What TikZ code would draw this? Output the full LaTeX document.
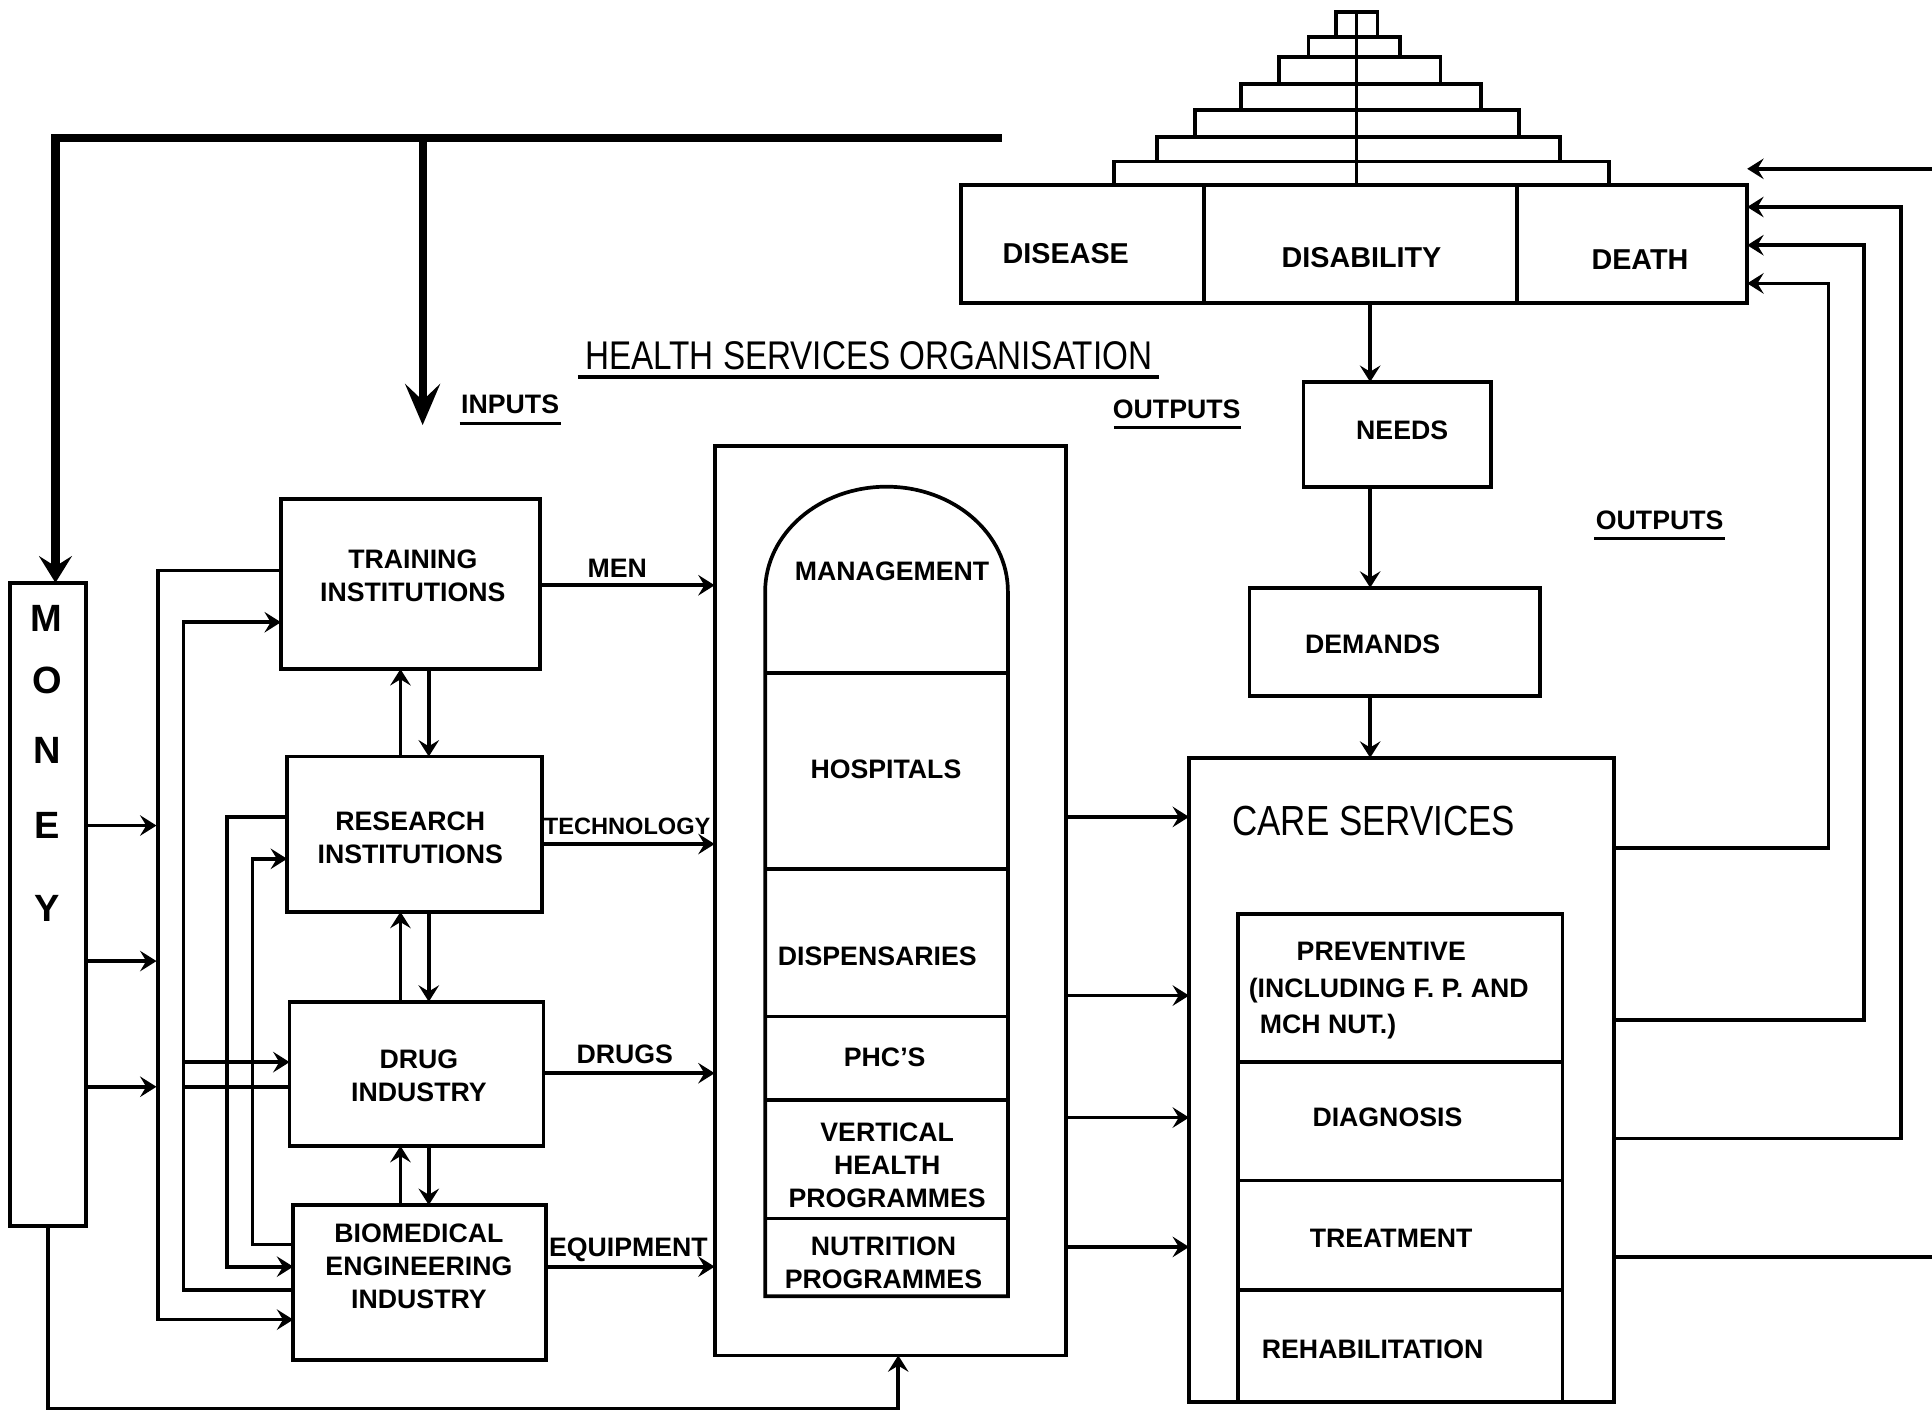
\documentclass[tikz,border=0pt]{standalone}
\usepackage{fontspec}
\setmainfont{Liberation Sans}
\newfontfamily\condfont[FakeStretch=0.83]{Liberation Sans}
\usetikzlibrary{arrows.meta,fit}
\begin{document}
\begin{tikzpicture}[x=0.6pt,y=-0.6pt,
  line width=1.8pt,
  box/.style={draw, line width=1.8pt, inner sep=0pt, outer sep=0pt},
  lbl/.style={font=\bfseries\fontsize{13}{16}\selectfont, align=center, inner sep=0pt},
  biglbl/.style={font=\condfont\fontsize{20.5}{24}\selectfont, inner sep=0pt},
  letter/.style={font=\bfseries\fontsize{18.5}{20}\selectfont, inner sep=0pt},
  arr/.style={-{Stealth[length=8pt,width=10pt,inset=3pt]}},
  thickln/.style={line width=4pt},
  bigarr/.style={-{Stealth[length=20pt,width=17pt,inset=8pt]}},
  midarr/.style={-{Stealth[length=13pt,width=16pt,inset=5pt]}},
  ul/.style={line width=1.5pt}
  ]
\useasboundingbox (0,0) rectangle (1568,1148);

% ---------- boxes ----------
\node[box, fit={(8,473) (70,995)}] (money) {};
\node[box, fit={(228,405) (438,543)}] (train) {};
\node[box, fit={(233,614) (440,740)}] (research) {};
\node[box, fit={(235,813) (441,930)}] (drug) {};
\node[box, fit={(238,978) (443,1104)}] (biomed) {};
\node[box, fit={(580,362) (865,1100)}] (hso) {};
\node[box, fit={(965,615) (1310,1138)}] (care) {};
\node[box, fit={(1005,742) (1268,1138)}] (carein) {};
\node[box, fit={(780,150) (1418,246)}] (ddd) {};
\node[box, fit={(1058,310) (1210,395)}] (needs) {};
\node[box, fit={(1014,477) (1250,565)}] (demands) {};

% ---------- capsule inside health services organisation ----------
\draw (621,1052) -- (621,480) arc[start angle=180, end angle=0, x radius=59.1pt, y radius=51pt] -- (818,1052) -- cycle;
\foreach \yy in {546,705,825,893,989} \draw (621,\yy) -- (818,\yy);

% ---------- care services inner dividers ----------
\foreach \yy in {862,958,1047} \draw (carein.west |- 0,\yy) -- (carein.east |- 0,\yy);

% ---------- top box dividers and pyramid ----------
\draw (977,150) -- (977,246);
\draw (1231,150) -- (1231,246);
\draw (1084,10) rectangle (1118,30);
\draw (1062,30) rectangle (1136,46);
\draw (1038,46) rectangle (1169,68);
\draw (1007,68) rectangle (1202,89);
\draw (970,89) rectangle (1233,111);
\draw (939,111) rectangle (1266,131);
\draw (904,131) rectangle (1306,150);
\draw (1101,10) -- (1101,150);

% ---------- texts ----------
\node[letter] (m1) at (38,502) {M};
\node[letter] (m2) at (38,552) {O};
\node[letter] (m3) at (38,609) {N};
\node[letter] (m4) at (38,670) {E};
\node[letter] (m5) at (38,737) {Y};

\node[lbl] (trainT) at (335,467) {TRAINING\\INSTITUTIONS};
\node[lbl] (researchT) at (333,680) {RESEARCH\\INSTITUTIONS};
\node[lbl] (drugT) at (340,873) {DRUG\\INDUSTRY};
\node[lbl] (biomedT) at (340,1028) {BIOMEDICAL\\ENGINEERING\\INDUSTRY};

\node[lbl] (menT) at (501,461) {MEN};
\node[lbl, font=\bfseries\fontsize{11.5}{14}\selectfont] (techT) at (509,671) {TECHNOLOGY};
\node[lbl] (drugsT) at (507,856) {DRUGS};
\node[lbl] (equipT) at (510,1014) {EQUIPMENT};

\node[lbl] (mgmtT) at (724,464) {MANAGEMENT};
\node[lbl] (hospT) at (719,624) {HOSPITALS};
\node[lbl] (dispT) at (712,776) {DISPENSARIES};
\node[lbl] (phcT) at (718,858) {PHC'S};
\node[lbl] (vertT) at (720,946) {VERTICAL\\HEALTH\\PROGRAMMES};
\node[lbl] (nutT) at (717,1025) {NUTRITION\\PROGRAMMES};

\node[biglbl] (careT) at (1115,666) {CARE SERVICES};
\node[lbl] (prevA) at (1121,772) {PREVENTIVE};
\node[lbl, anchor=west] (prevB) at (1012,804) {(INCLUDING F. P. AND};
\node[lbl, anchor=west] (prevC) at (1021,833) {MCH NUT.)};
\node[lbl] (diagT) at (1126,907) {DIAGNOSIS};
\node[lbl] (treatT) at (1129,1005) {TREATMENT};
\node[lbl] (rehabT) at (1114,1095) {REHABILITATION};

\node[lbl, font=\bfseries\fontsize{14}{16}\selectfont] (diseaseT) at (865,206) {DISEASE};
\node[lbl, font=\bfseries\fontsize{14}{16}\selectfont] (disabT) at (1105,209) {DISABILITY};
\node[lbl, font=\bfseries\fontsize{14}{16}\selectfont] (deathT) at (1331,211) {DEATH};
\node[lbl] (needsT) at (1138,349) {NEEDS};
\node[lbl] (demandsT) at (1114,523) {DEMANDS};

\node[biglbl, font=\condfont\fontsize{19.5}{22}\selectfont] (hsoT) at (705,289) {HEALTH SERVICES ORGANISATION};
\draw[ul] (469,306) -- (941,306);
\node[lbl] (inputsT) at (414,328) {INPUTS};
\draw[ul] (373,344) -- (455,344);
\node[lbl] (out1T) at (955,332) {OUTPUTS};
\draw[ul] (904,347) -- (1007,347);
\node[lbl] (out2T) at (1347,422) {OUTPUTS};
\draw[ul] (1294,437) -- (1400,437);

% ---------- money supply (thick) ----------
\coordinate (mEnd) at (813,112);
\coordinate (mBranch) at (343,112);
\coordinate (inTip) at (343,345);
\draw[thickln, midarr] (mEnd) -- (45,112) -- (money.north -| 45,0);
\draw[thickln, bigarr] (mBranch) -- (inTip);

% ---------- money outputs ----------
\draw[arr] (money.east |- 0,670) -- (127,670);
\draw[arr] (money.east |- 0,780) -- (127,780);
\draw[arr] (money.east |- 0,882) -- (127,882);
\draw[arr] (money.south) -- (39,1143) -- (729,1143) -- (hso.south -| 729,0);

% ---------- left interconnections ----------
\draw[arr] (train.west |- 0,463) -- (128,463) -- (128,1071) -- (biomed.west |- 0,1071);
\draw[arr] (biomed.west |- 0,1047) -- (149,1047) -- (149,505) -- (train.west |- 0,505);
\draw[arr] (149,862) -- (drug.west |- 0,862);
\draw (drug.west |- 0,882) -- (149,882);
\draw[arr] (research.west |- 0,663) -- (184,663) -- (184,1028) -- (biomed.west |- 0,1028);
\draw[arr] (biomed.west |- 0,1010) -- (205,1010) -- (205,697) -- (research.west |- 0,697);

% ---------- vertical arrows between input boxes ----------
\draw[arr] (research.north -| 325,0) -- (train.south -| 325,0);
\draw[arr] (train.south -| 348,0) -- (research.north -| 348,0);
\draw[arr] (drug.north -| 325,0) -- (research.south -| 325,0);
\draw[arr] (research.south -| 348,0) -- (drug.north -| 348,0);
\draw[arr] (biomed.north -| 325,0) -- (drug.south -| 325,0);
\draw[arr] (drug.south -| 348,0) -- (biomed.north -| 348,0);

% ---------- inputs into health services organisation ----------
\draw[arr] (train.east |- 0,475) -- (hso.west |- 0,475);
\draw[arr] (research.east |- 0,685) -- (hso.west |- 0,685);
\draw[arr] (drug.east |- 0,871) -- (hso.west |- 0,871);
\draw[arr] (biomed.east |- 0,1028) -- (hso.west |- 0,1028);

% ---------- outputs to care services ----------
\foreach \yy in {663,808,907,1012} \draw[arr] (hso.east |- 0,\yy) -- (care.west |- 0,\yy);

% ---------- needs / demands chain ----------
\draw[arr] (ddd.south -| 1112,0) -- (needs.north -| 1112,0);
\draw[arr] (needs.south -| 1112,0) -- (demands.north -| 1112,0);
\draw[arr] (demands.south -| 1112,0) -- (care.north -| 1112,0);

% ---------- feedback ----------
\draw[arr] (care.east |- 0,688) -- (1484,688) -- (1484,230) -- (ddd.east |- 0,230);
\draw[arr] (care.east |- 0,828) -- (1513,828) -- (1513,199) -- (ddd.east |- 0,199);
\draw[arr] (care.east |- 0,924) -- (1543,924) -- (1543,168) -- (ddd.east |- 0,168);
\coordinate (rOut) at (1568,1020);
\draw (care.east |- 0,1020) -- (rOut);
\coordinate (rIn) at (1568,137);
\draw[arr] (rIn) -- (ddd.east |- 0,137);
\end{tikzpicture}
\end{document}
